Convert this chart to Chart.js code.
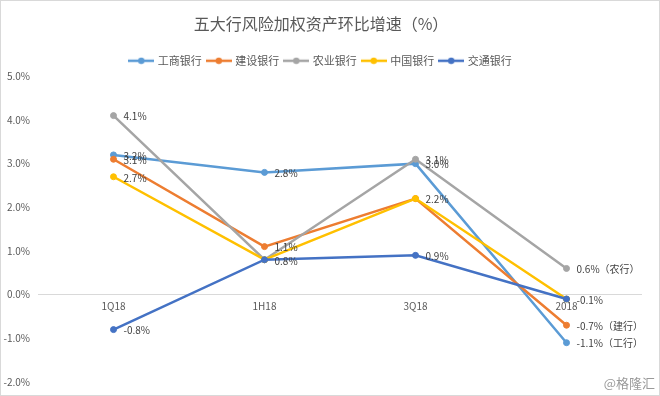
<!DOCTYPE html>
<html>
<head>
<meta charset="utf-8">
<script src="https://cdn.jsdelivr.net/npm/chart.js@4.4.0/dist/chart.umd.min.js"></script>
<style>
  html, body { margin: 0; padding: 0; background: #fff; }
  #wrap { width: 660px; height: 396px; position: relative; }
  canvas { outline: 1px solid #d9d9d9; outline-offset: -1px; }
</style>
</head>
<body>
<div id="wrap"><canvas id="myChart"></canvas></div>
<script>
// Data: 五大行风险加权资产环比增速 (%)
const periods = ['1Q18', '1H18', '3Q18', '2018'];
const bankNames = ['工商银行', '建设银行', '农业银行', '中国银行', '交通银行'];

const icbc  = [3.2, 2.8, 3.0, -1.1];
const ccb   = [3.1, 1.1, 2.2, -0.7];
const abc   = [4.1, 0.8, 3.1, 0.6];
const boc   = [2.7, 0.8, 2.2, -0.1];
const bocom = [-0.8, 0.8, 0.9, -0.1];

// text next to each point (null = nothing shown)
const icbcTags  = ['3.2%', '2.8%', '3.0%', '-1.1%（工行）'];
const ccbTags   = ['3.1%', '1.1%', null, '-0.7%（建行）'];
const abcTags   = ['4.1%', null, '3.1%', '0.6%（农行）'];
const bocTags   = ['2.7%', null, '2.2%', null];
const bocomTags = ['-0.8%', '0.8%', '0.9%', '-0.1%'];

const yMin = -2, yMax = 5, yStep = 1;
const watermark = '@格隆汇';

const colors = ['#5B9BD5', '#ED7D31', '#A5A5A5', '#FFC000', '#4472C4'];
const FONT = '"Noto Sans CJK SC", "Noto Sans", sans-serif';
Chart.defaults.font.family = FONT;

// legend marker: short line with a dot
function legendMark(color) {
  const c = document.createElement('canvas');
  c.width = 26; c.height = 8;
  const g = c.getContext('2d');
  g.strokeStyle = color; g.lineWidth = 2.5;
  g.beginPath(); g.moveTo(0, 4); g.lineTo(26, 4); g.stroke();
  g.fillStyle = color;
  g.beginPath(); g.arc(13, 4, 3.2, 0, Math.PI * 2); g.fill();
  return c;
}
const marks = colors.map(legendMark);

const series = [icbc, ccb, abc, boc, bocom];
const tags = [icbcTags, ccbTags, abcTags, bocTags, bocomTags];

const datasets = series.map((vals, i) => ({
  label: bankNames[i],
  data: vals,
  tags: tags[i],
  borderColor: colors[i],
  backgroundColor: colors[i],
  pointBackgroundColor: colors[i],
  pointBorderColor: colors[i],
  borderWidth: 2.5,
  pointRadius: 3,
  pointBorderWidth: 1,
  tension: 0,
  order: series.length - i   // later series on top, like the original
}));

// category labels on the zero line, point labels, watermark
const extras = {
  id: 'extras',
  beforeDatasetsDraw(chart) {
    const ctx = chart.ctx;
    const xs = chart.scales.x, ys = chart.scales.y;
    const y0 = ys.getPixelForValue(0);
    ctx.save();
    ctx.font = '10px ' + FONT;
    ctx.fillStyle = '#595959';
    ctx.textAlign = 'center';
    ctx.textBaseline = 'top';
    periods.forEach((p, j) => ctx.fillText(p, xs.getPixelForValue(j), y0 + 7));
    ctx.restore();
  },
  afterDatasetsDraw(chart) {
    const ctx = chart.ctx;
    ctx.save();
    ctx.font = '10px ' + FONT;
    ctx.fillStyle = '#404040';
    ctx.textAlign = 'left';
    ctx.textBaseline = 'middle';
    chart.data.datasets.forEach((ds, i) => {
      const meta = chart.getDatasetMeta(i);
      ds.tags.forEach((t, j) => {
        if (!t) return;
        const pt = meta.data[j];
        ctx.fillText(t, pt.x + 10, pt.y + 1);
      });
    });
    ctx.font = '13px ' + FONT;
    ctx.fillStyle = '#9a9a9a';
    ctx.textAlign = 'right';
    ctx.fillText(watermark, 655, 383);
    ctx.restore();
  }
};

const config = {
  type: 'line',
  data: { labels: periods, datasets },
  options: {
    responsive: true,
    maintainAspectRatio: false,
    animation: false,
    layout: { padding: { left: 0, right: 18, top: 0, bottom: 14 } },
    scales: {
      x: { display: false, offset: true },
      y: {
        min: yMin,
        max: yMax,
        ticks: {
          stepSize: yStep,
          padding: 8,
          color: '#595959',
          font: { size: 10 },
          callback: v => v.toFixed(1) + '%'
        },
        grid: {
          drawTicks: false,
          color: c => c.tick.value === 0 ? '#d9d9d9' : 'rgba(0,0,0,0)'
        },
        border: { display: false },
        afterFit: scale => { scale.width = 38; }
      }
    },
    plugins: {
      tooltip: { enabled: false },
      title: {
        display: true,
        text: '五大行风险加权资产环比增速（%）',
        color: '#595959',
        font: { size: 16, weight: 'normal' },
        padding: { top: 14.4, bottom: 15.7 }
      },
      legend: {
        labels: {
          usePointStyle: true,
          pointStyleWidth: 22,
          padding: 6,
          color: '#595959',
          font: { size: 11 },
          generateLabels: chart => {
            const items = Chart.defaults.plugins.legend.labels.generateLabels(chart);
            items.forEach(it => { it.pointStyle = marks[it.datasetIndex]; });
            return items.sort((a, b) => a.datasetIndex - b.datasetIndex);
          }
        }
      }
    }
  },
  plugins: [extras]
};

const myChart = new Chart(document.getElementById('myChart'), config);
</script>
</body>
</html>
